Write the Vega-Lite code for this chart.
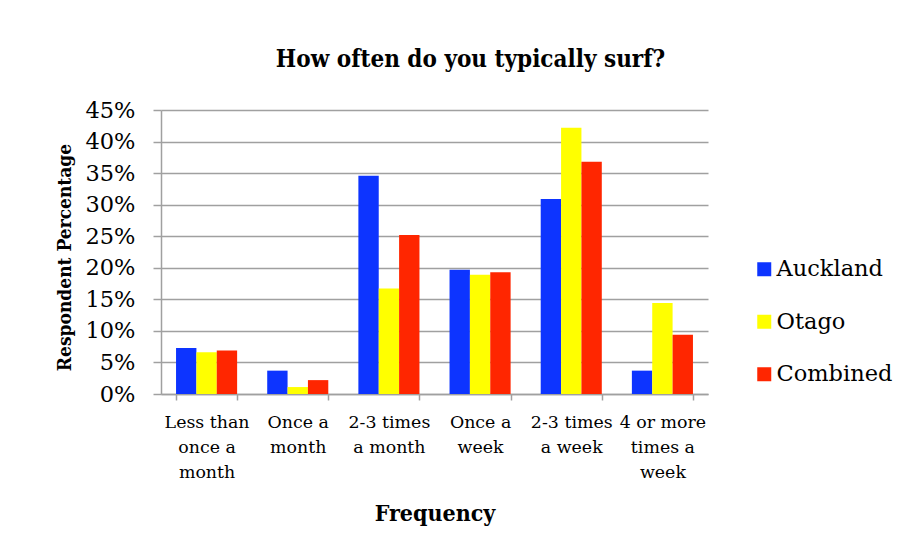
{
  "$schema": "https://vega.github.io/schema/vega-lite/v6.json",
  "width": 547,
  "height": 284,
  "autosize": {"type": "none"},
  "padding": {"left": 161, "top": 110, "right": 209, "bottom": 163},
  "background": "white",
  "title": {
    "text": "How often do you typically surf?",
    "font": "DejaVu Serif Condensed, DejaVu Serif",
    "fontWeight": "bold",
    "fontSize": 24,
    "color": "black",
    "anchor": "middle",
    "frame": "group",
    "dx": 36,
    "baseline": "bottom",
    "offset": 3
  },
  "data": {
    "values": [
      {"frequency": "Less than\nonce a\nmonth", "region": "Auckland", "share": 0.073},
      {"frequency": "Less than\nonce a\nmonth", "region": "Otago", "share": 0.066},
      {"frequency": "Less than\nonce a\nmonth", "region": "Combined", "share": 0.069},
      {"frequency": "Once a\nmonth", "region": "Auckland", "share": 0.037},
      {"frequency": "Once a\nmonth", "region": "Otago", "share": 0.011},
      {"frequency": "Once a\nmonth", "region": "Combined", "share": 0.022},
      {"frequency": "2-3 times\na month", "region": "Auckland", "share": 0.346},
      {"frequency": "2-3 times\na month", "region": "Otago", "share": 0.167},
      {"frequency": "2-3 times\na month", "region": "Combined", "share": 0.252},
      {"frequency": "Once a\nweek", "region": "Auckland", "share": 0.197},
      {"frequency": "Once a\nweek", "region": "Otago", "share": 0.189},
      {"frequency": "Once a\nweek", "region": "Combined", "share": 0.193},
      {"frequency": "2-3 times\na week", "region": "Auckland", "share": 0.309},
      {"frequency": "2-3 times\na week", "region": "Otago", "share": 0.422},
      {"frequency": "2-3 times\na week", "region": "Combined", "share": 0.368},
      {"frequency": "4 or more\ntimes a\nweek", "region": "Auckland", "share": 0.037},
      {"frequency": "4 or more\ntimes a\nweek", "region": "Otago", "share": 0.144},
      {"frequency": "4 or more\ntimes a\nweek", "region": "Combined", "share": 0.094}
    ]
  },
  "mark": {"type": "bar"},
  "encoding": {
    "x": {
      "field": "frequency",
      "type": "nominal",
      "sort": null,
      "scale": {"paddingInner": 0.33, "paddingOuter": 0.165},
      "axis": {
        "title": "Frequency",
        "titleFont": "DejaVu Serif Condensed, DejaVu Serif",
        "titleFontWeight": "bold",
        "titleFontSize": 23,
        "titleColor": "black",
        "titleY": 126,
        "titleBaseline": "alphabetic",
        "labelAngle": 0,
        "labelFont": "DejaVu Serif",
        "labelFontSize": 17.4,
        "labelColor": "black",
        "labelExpr": "split(datum.label, '\\n')",
        "labelLineHeight": 25,
        "labelPadding": 13,
        "labelLimit": 200,
        "tickSize": 6,
        "tickColor": "#a0a0a0",
        "tickWidth": 1.5,
        "tickBand": "extent",
        "domainColor": "#a0a0a0",
        "domainWidth": 1.5,
        "grid": false
      }
    },
    "xOffset": {
      "field": "region",
      "type": "nominal",
      "sort": ["Auckland", "Otago", "Combined"],
      "scale": {"paddingInner": 0, "paddingOuter": 0}
    },
    "y": {
      "field": "share",
      "type": "quantitative",
      "scale": {"domain": [0, 0.45], "nice": false},
      "axis": {
        "title": "Respondent Percentage",
        "titleFont": "DejaVu Serif Condensed, DejaVu Serif",
        "titleFontWeight": "bold",
        "titleFontSize": 19,
        "titleColor": "black",
        "titleX": -97,
        "titleY": 147,
        "titleAngle": -90,
        "titleAlign": "center",
        "titleBaseline": "middle",
        "values": [0, 0.05, 0.1, 0.15, 0.2, 0.25, 0.3, 0.35, 0.4, 0.45],
        "format": ".0%",
        "labelFont": "DejaVu Serif",
        "labelFontSize": 22.5,
        "labelColor": "black",
        "labelPadding": 18,
        "tickSize": 8,
        "tickColor": "#a0a0a0",
        "tickWidth": 1.5,
        "domainColor": "#a0a0a0",
        "domainWidth": 1.5,
        "grid": true,
        "gridColor": "#a0a0a0",
        "gridWidth": 1.5
      }
    },
    "color": {
      "field": "region",
      "type": "nominal",
      "sort": ["Auckland", "Otago", "Combined"],
      "scale": {
        "domain": ["Auckland", "Otago", "Combined"],
        "range": ["#0D34FF", "#FFFF00", "#FF2600"]
      },
      "legend": {
        "title": null,
        "orient": "none",
        "legendX": 592,
        "legendY": 148,
        "symbolType": "square",
        "symbolSize": 196,
        "symbolStrokeWidth": 0,
        "labelFont": "DejaVu Serif",
        "labelFontSize": 22.5,
        "labelColor": "black",
        "labelOffset": 1,
        "rowPadding": 29.5
      }
    }
  },
  "config": {
    "view": {"stroke": null}
  }
}
